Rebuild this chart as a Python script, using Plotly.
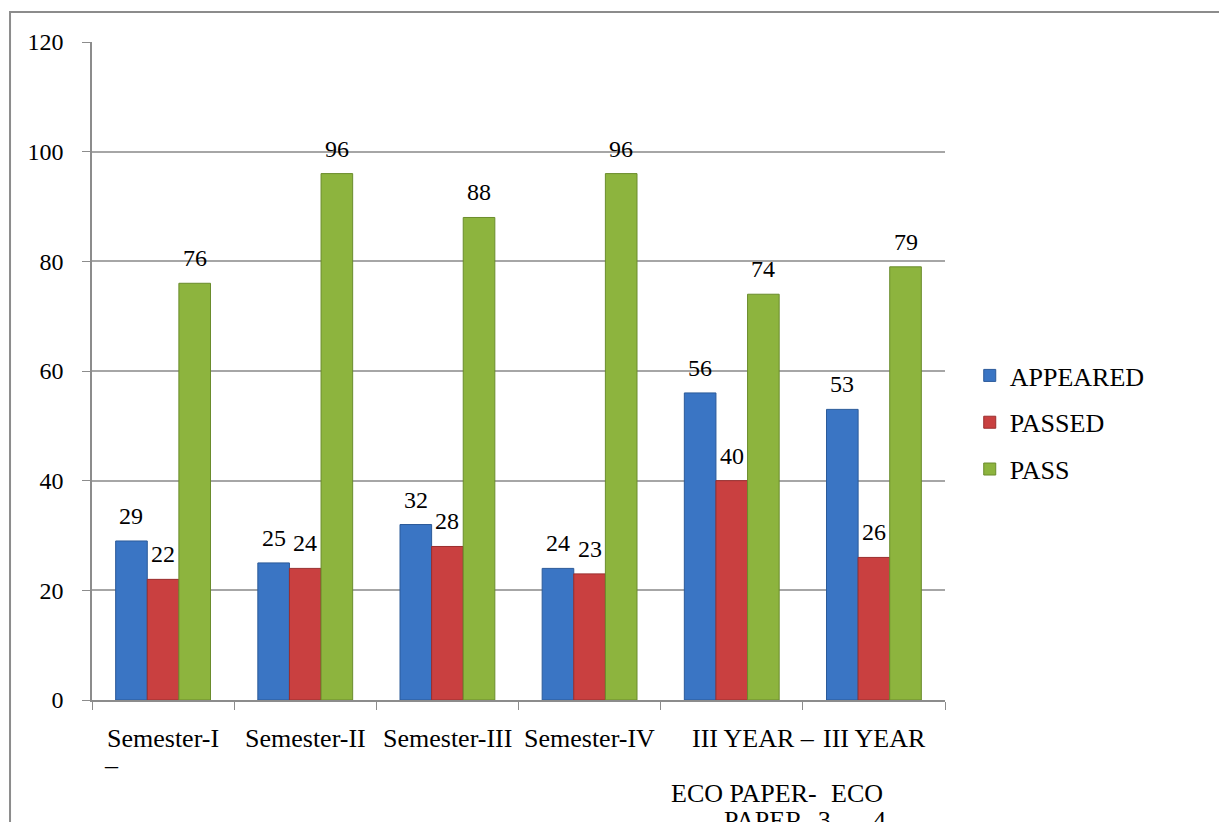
import plotly.graph_objects as go

categories = ["Semester-I", "Semester-II", "Semester-III", "Semester-IV",
              "III YEAR – ECO PAPER- 3", "III YEAR – ECO PAPER- 4"]
appeared = [29, 25, 32, 24, 56, 53]
passed = [22, 24, 28, 23, 40, 26]
pass_pct = [76, 96, 88, 96, 74, 79]
series_names = ["APPEARED", "PASSED", "PASS"]
y_ticks = [0, 20, 40, 60, 80, 100, 120]

# wrapped category labels as displayed (line by line)
label_lines = [
    ["Semester-I", "–"],
    ["Semester-II"],
    ["Semester-III"],
    ["Semester-IV"],
    ["III YEAR –", "", "ECO PAPER-", "PAPER- 3"],
    ["III YEAR", "", "ECO", "4"],
]
# horizontal nudges for each wrapped line (pixels)
label_shifts = [
    [0, -52],
    [0],
    [0],
    [0],
    [22, 0, 12, 46],
    [1, 0, -17, 6],
]

colors = ["#3A75C4", "#C94040", "#8DB43E"]
edge = ["#2B5A99", "#9A2E2E", "#6A8C2C"]
FONT = "Liberation Serif, Times New Roman, DejaVu Serif, serif"
FS = 24
FS_CAT = 26

fig = go.Figure()
values = [appeared, passed, pass_pct]
for k, (name, vals) in enumerate(zip(series_names, values)):
    fig.add_trace(go.Bar(
        x=categories, y=vals, name=name,
        marker=dict(color=colors[k], line=dict(color=edge[k], width=1)),
        legendgroup=name,
    ))

bargap = 0.333
w = (1 - bargap) / 3
annotations = []
for k, vals in enumerate(values):
    for i, v in enumerate(vals):
        annotations.append(dict(
            x=i + (k - 1) * w, y=v, xref="x", yref="y", text=str(v),
            showarrow=False, yanchor="bottom", yshift=10,
            font=dict(family=FONT, size=FS, color="black")))

for i, lines in enumerate(label_lines):
    for j, line in enumerate(lines):
        if not line:
            continue
        annotations.append(dict(
            x=i, y=0, xref="x", yref="paper", text=line, showarrow=False,
            yanchor="middle", xanchor="center",
            yshift=-38 - j * 27.5, xshift=label_shifts[i][j],
            font=dict(family=FONT, size=FS_CAT, color="black")))

fig.update_layout(
    width=1227, height=822,
    margin=dict(l=84, r=290, t=34, b=130),
    paper_bgcolor="white", plot_bgcolor="white",
    barmode="group", bargap=bargap, bargroupgap=0,
    font=dict(family=FONT, size=FS, color="black"),
    showlegend=True,
    legend=dict(x=1.029, y=0.4217, xanchor="left", yanchor="middle",
                font=dict(family=FONT, size=FS_CAT, color="black"),
                tracegroupgap=10, bgcolor="rgba(0,0,0,0)"),
    annotations=annotations,
    shapes=[dict(type="rect", xref="paper", yref="paper",
                 x0=-0.0961, x1=1.45, y0=-0.4, y1=1.0456,
                 line=dict(color="#8C8C8C", width=2), fillcolor="rgba(0,0,0,0)",
                 layer="below")],
)
fig.update_xaxes(
    showticklabels=False, tickson="boundaries", ticks="outside", ticklen=8,
    tickcolor="#8C8C8C", showline=True, linecolor="#8C8C8C", linewidth=1.5,
    showgrid=False, range=[-0.5, 5.5])
fig.update_yaxes(
    range=[0, 120], tickvals=y_ticks, ticks="outside", ticklen=8,
    tickcolor="#8C8C8C", showline=True, linecolor="#8C8C8C", linewidth=1.5,
    showgrid=True, gridcolor="#A6A6A6", gridwidth=1.5, zeroline=False,
    ticklabelstandoff=14, tickfont=dict(family=FONT, size=FS, color="black"))

fig.write_html("out.html")
